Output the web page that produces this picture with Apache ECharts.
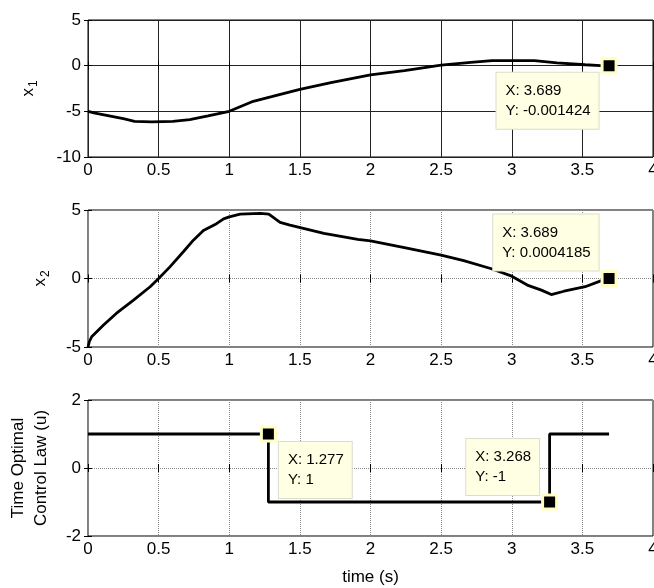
<!DOCTYPE html>
<html>
<head>
<meta charset="utf-8">
<script src="https://cdn.jsdelivr.net/npm/echarts@6/dist/echarts.min.js"></script>
<style>html,body{margin:0;padding:0;background:#fff;}#c{width:654px;height:588px;}</style>
</head>
<body>
<div id="c"></div>
<script>
// ---- data ----
var x1Data = [[0,-5],[0.05,-5.2],[0.15,-5.5],[0.25,-5.8],[0.33,-6.1],[0.45,-6.15],[0.6,-6.1],[0.72,-5.9],[0.85,-5.5],[1.0,-5.0],[1.17,-3.9],[1.3,-3.4],[1.5,-2.6],[1.72,-1.85],[2.0,-1.0],[2.24,-0.55],[2.5,0.07],[2.71,0.37],[2.86,0.55],[3.16,0.55],[3.32,0.3],[3.52,0.1],[3.63,0.0],[3.689,-0.001424]];
var x2Data = [[0,-5],[0.01,-4.6],[0.026,-4.25],[0.11,-3.4],[0.2,-2.55],[0.32,-1.6],[0.44,-0.6],[0.5,0],[0.58,0.85],[0.675,1.95],[0.746,2.8],[0.817,3.5],[0.91,4.0],[0.96,4.35],[1.0,4.5],[1.077,4.7],[1.22,4.75],[1.28,4.7],[1.36,4.1],[1.43,3.9],[1.67,3.3],[1.91,2.85],[2.0,2.75],[2.24,2.25],[2.5,1.7],[2.66,1.3],[2.85,0.73],[3.0,0.17],[3.11,-0.48],[3.21,-0.85],[3.28,-1.17],[3.37,-0.93],[3.52,-0.6],[3.63,-0.17],[3.689,0.0004185]];
var uData = [[0,1],[1.277,1],[1.277,-1],[3.268,-1],[3.268,1],[3.689,1]];
var tip1 = [[3.689,-0.001424]];
var tip2 = [[3.689,0.0004185]];
var tip3a = [[1.277,1]];
var tip3b = [[3.268,-1]];
var xTicks = {min:0, max:4, interval:0.5};
var yTicks1 = {min:-10, max:5, interval:5};
var yTicks2 = {min:-5, max:5, interval:5};
var yTicks3 = {min:-2, max:2, interval:2};
var yNames = ['x{s|1}', 'x{s|2}', 'Time Optimal\nControl Law (u)'];
var xName = 'time (s)';

var FONT = 'Liberation Sans';
var chart = echarts.init(document.getElementById('c'), null, {renderer:'canvas'});

var grids = [
  {left:88, right:1, top:20, height:137},
  {left:88, right:1, top:210, height:137},
  {left:88, right:1, top:400, height:136}
];
grids.forEach(function(g){ g.show = true; g.borderColor = '#000'; g.borderWidth = 1; g.backgroundColor = '#fff'; g.containLabel = false; g.outerBoundsMode = 'none'; });

var splitStyles = [
  {show:true, lineStyle:{color:'#222', width:1, type:'solid'}},
  {show:true, lineStyle:{color:'#888', width:1, type:'dotted'}},
  {show:true, lineStyle:{color:'#888', width:1, type:'dotted'}}
];
var yT = [yTicks1, yTicks2, yTicks3];
var nameGaps = [48, 36, 35];

var xAxes = [], yAxes = [];
for (var i = 0; i < 3; i++) {
  xAxes.push({
    type:'value', gridIndex:i, position:'bottom', min:xTicks.min, max:xTicks.max, interval:xTicks.interval,
    axisLine:{show:false}, axisTick:{show:true, inside:true, length:4, lineStyle:{color:'#000'}},
    axisLabel:{show:true, fontFamily:FONT, fontSize:17, color:'#000', margin:5, hideOverlap:false, showMaxLabel:true, showMinLabel:true},
    splitLine:splitStyles[i],
    name: i === 2 ? xName : '', nameLocation:'middle', nameGap:33,
    nameTextStyle:{fontFamily:FONT, fontSize:17, color:'#000'}
  });
  xAxes.push({
    type:'value', gridIndex:i, position:'top', min:xTicks.min, max:xTicks.max, interval:xTicks.interval,
    axisLine:{show:false}, axisTick:{show:true, inside:true, length:4, lineStyle:{color:'#000'}},
    axisLabel:{show:false}, splitLine:{show:false}
  });
  yAxes.push({
    type:'value', gridIndex:i, position:'left', min:yT[i].min, max:yT[i].max, interval:yT[i].interval,
    axisLine:{show:false}, axisTick:{show:true, inside:true, length:4, lineStyle:{color:'#000'}},
    axisLabel:{show:true, fontFamily:FONT, fontSize:17, color:'#000', margin:7, showMaxLabel:true, showMinLabel:true},
    splitLine:splitStyles[i],
    name: yNames[i], nameLocation:'middle', nameGap:nameGaps[i], nameRotate:90,
    nameTextStyle:{fontFamily:FONT, fontSize:17, color:'#000', lineHeight:23,
      rich:{s:{fontFamily:FONT, fontSize:12, color:'#000', verticalAlign:'bottom', padding:[9,0,0,1]}}}
  });
  yAxes.push({
    type:'value', gridIndex:i, position:'right', min:yT[i].min, max:yT[i].max, interval:yT[i].interval,
    axisLine:{show:false}, axisTick:{show:true, inside:true, length:4, lineStyle:{color:'#000'}},
    axisLabel:{show:false}, splitLine:{show:false}
  });
}

function tipSeries(data, axisIdx, pos, offset) {
  return {
    type:'scatter', xAxisIndex:axisIdx*2, yAxisIndex:axisIdx*2, data:data, z:10,
    symbol:'rect', symbolSize:14,
    itemStyle:{color:'#000', borderColor:'#ffffc4', borderWidth:3, opacity:1},
    label:{
      show:true, position:pos, distance:2, offset:offset, opacity:1,
      formatter:function(p){ return '{a|X: ' + p.value[0] + '}\n{a|Y: ' + p.value[1] + '}'; },
      backgroundColor:'#ffffe3', borderColor:'#dcdccc', borderWidth:1,
      padding:[8,8,8,9],
      rich:{a:{fontFamily:FONT, fontSize:15, lineHeight:20, color:'#000', align:'left'}}
    },
    emphasis:{disabled:true}, silent:true
  };
}

function lineSeries(data, axisIdx) {
  return {
    type:'line', xAxisIndex:axisIdx*2, yAxisIndex:axisIdx*2, data:data,
    showSymbol:false, lineStyle:{color:'#000', width:2.8}, z:5, silent:true
  };
}

chart.setOption({
  animation:false,
  grid:grids,
  xAxis:xAxes,
  yAxis:yAxes,
  series:[
    lineSeries(x1Data, 0),
    lineSeries(x2Data, 1),
    lineSeries(uData, 2),
    tipSeries(tip1, 0, 'left', [0, 35]),
    tipSeries(tip2, 1, 'left', [0, -36]),
    tipSeries(tip3a, 2, 'right', [0, 36]),
    tipSeries(tip3b, 2, 'left', [0, -35])
  ]
});
</script>
</body>
</html>
